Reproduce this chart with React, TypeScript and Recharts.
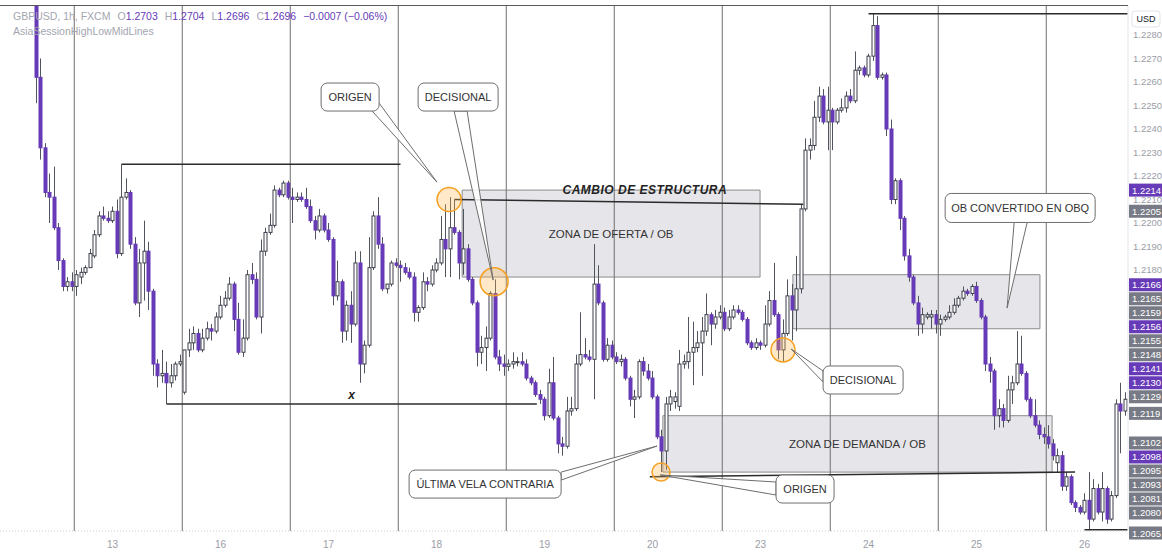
import React from "react";
import {
  ComposedChart,
  Bar,
  XAxis,
  YAxis,
  ReferenceLine,
  ReferenceArea,
  ReferenceDot,
} from "recharts";

// ----------------------------- Data (GBPUSD 1h, FXCM) -----------------------------
// one value per hourly candle, left to right
const OPEN = [
  1.2306, 1.2262, 1.2232, 1.2213, 1.2211, 1.2198, 1.2184, 1.2173, 1.2175, 1.2173,
  1.2177, 1.2179, 1.2181, 1.2186, 1.2195, 1.2203, 1.2202, 1.2201, 1.2205, 1.2187,
  1.2211, 1.2213, 1.2191, 1.2166, 1.2183, 1.2188, 1.2171, 1.214, 1.2135, 1.2136,
  1.2132, 1.2135, 1.214, 1.2128, 1.2146, 1.2149, 1.2153, 1.2146, 1.2151, 1.2155,
  1.2154, 1.216, 1.2165, 1.2168, 1.2174, 1.2159, 1.2145, 1.2151, 1.2178, 1.2176,
  1.216, 1.2188, 1.2196, 1.2199, 1.2214, 1.2212, 1.2217, 1.2211, 1.221, 1.2211,
  1.221, 1.2207, 1.2201, 1.2197, 1.2203, 1.2197, 1.2193, 1.2169, 1.2175, 1.2154,
  1.2165, 1.2157, 1.2183, 1.214, 1.2148, 1.2181, 1.2203, 1.2191, 1.2172, 1.2174,
  1.2183, 1.2182, 1.2181, 1.2179, 1.2177, 1.2162, 1.2164, 1.2175, 1.2174, 1.218,
  1.2183, 1.2193, 1.2189, 1.2198, 1.2196, 1.2183, 1.2189, 1.2176, 1.2166, 1.2145,
  1.2147, 1.2151, 1.217, 1.2143, 1.214, 1.2139, 1.214, 1.2141, 1.2141, 1.214,
  1.2134, 1.2132, 1.2127, 1.2125, 1.2118, 1.2132, 1.2117, 1.2106, 1.2105, 1.212,
  1.2121, 1.214, 1.2144, 1.2143, 1.2142, 1.2174, 1.2166, 1.2142, 1.2148, 1.2143,
  1.2141, 1.2142, 1.2134, 1.2125, 1.2126, 1.2141, 1.2137, 1.2134, 1.2126, 1.2109,
  1.2103, 1.2123, 1.2124, 1.2122, 1.214, 1.2141, 1.2145, 1.2147, 1.2149, 1.2154,
  1.2161, 1.2157, 1.216, 1.2162, 1.2155, 1.216, 1.2163, 1.2162, 1.2159, 1.2149,
  1.2147, 1.2149, 1.2148, 1.2157, 1.2167, 1.2161, 1.2146, 1.2153, 1.2169, 1.2163,
  1.2172, 1.2206, 1.2231, 1.2233, 1.2245, 1.2254, 1.2243, 1.2248, 1.2243, 1.2248,
  1.2249, 1.2254, 1.2252, 1.2265, 1.2266, 1.2263, 1.2271, 1.2284, 1.2262, 1.2263,
  1.224, 1.221, 1.2218, 1.2202, 1.2186, 1.2177, 1.2166, 1.2157, 1.216, 1.216,
  1.2161, 1.2157, 1.2159, 1.216, 1.2162, 1.2165, 1.2168, 1.2171, 1.217, 1.2173,
  1.2167, 1.216, 1.214, 1.2137, 1.2118, 1.2121, 1.2116, 1.2129, 1.2132, 1.214,
  1.2136, 1.2125, 1.2118, 1.2114, 1.211, 1.2109, 1.2106, 1.2098, 1.2101, 1.2088,
  1.2092, 1.2081, 1.2079, 1.2077, 1.2082, 1.2074, 1.2087, 1.2077, 1.2087, 1.2074,
  1.2084, 1.2123, 1.212,
];
const HIGH = [
  1.2308, 1.227, 1.2234, 1.2221, 1.2224, 1.22, 1.2185, 1.2177, 1.2179, 1.218,
  1.2181, 1.2182, 1.2189, 1.2197, 1.2205, 1.2207, 1.2205, 1.2207, 1.221, 1.2225,
  1.2219, 1.2214, 1.2194, 1.2189, 1.2201, 1.2192, 1.2172, 1.2142, 1.2146, 1.2141,
  1.214, 1.2141, 1.2144, 1.2146, 1.2155, 1.2156, 1.2155, 1.2155, 1.2158, 1.2157,
  1.2162, 1.2169, 1.2171, 1.2177, 1.2175, 1.2166, 1.2159, 1.218, 1.2183, 1.2179,
  1.2193, 1.2198, 1.2204, 1.2216, 1.2215, 1.2218, 1.2218, 1.2215, 1.2213, 1.2213,
  1.2215, 1.221, 1.2203, 1.2206, 1.2204, 1.22, 1.2194, 1.2184, 1.2176, 1.2167,
  1.2171, 1.2188, 1.2188, 1.215, 1.2194, 1.2205, 1.2211, 1.2194, 1.2174, 1.2184,
  1.2185, 1.2184, 1.2183, 1.2181, 1.2179, 1.2165, 1.2179, 1.2177, 1.2182, 1.2185,
  1.2203, 1.2208, 1.2211, 1.221, 1.2197, 1.2206, 1.2191, 1.2177, 1.2167, 1.2152,
  1.2156, 1.2171, 1.2176, 1.2146, 1.2144, 1.2142, 1.2145, 1.2143, 1.2145, 1.2142,
  1.2135, 1.2133, 1.2129, 1.2126, 1.2138, 1.2143, 1.2118, 1.2109, 1.2126, 1.2126,
  1.2144, 1.2162, 1.2151, 1.2146, 1.2191, 1.2182, 1.2167, 1.2151, 1.215, 1.2145,
  1.2144, 1.2143, 1.2135, 1.2129, 1.2142, 1.2143, 1.214, 1.2137, 1.2127, 1.2112,
  1.2126, 1.2129, 1.2128, 1.2146, 1.2144, 1.216, 1.2158, 1.2154, 1.216, 1.217,
  1.2162, 1.2163, 1.2165, 1.2164, 1.2163, 1.2165, 1.2165, 1.2163, 1.216, 1.215,
  1.2151, 1.215, 1.2165, 1.2171, 1.2183, 1.2162, 1.2159, 1.2176, 1.2174, 1.2186,
  1.2208, 1.2236, 1.2236, 1.2252, 1.2258, 1.2257, 1.2258, 1.2249, 1.2249, 1.2253,
  1.2256, 1.2257, 1.2273, 1.2267, 1.2267, 1.2272, 1.2289, 1.2288, 1.2264, 1.2264,
  1.2244, 1.2219, 1.2219, 1.2203, 1.2189, 1.2178, 1.2169, 1.2164, 1.2162, 1.2163,
  1.2163, 1.2161, 1.2161, 1.2165, 1.2168, 1.2169, 1.2173, 1.2172, 1.2174, 1.2175,
  1.2168, 1.2161, 1.2143, 1.2138, 1.2125, 1.2123, 1.2135, 1.2135, 1.2154, 1.2152,
  1.2137, 1.2126, 1.2125, 1.2116, 1.2113, 1.2114, 1.2108, 1.2104, 1.2103, 1.2094,
  1.2093, 1.2082, 1.208, 1.2085, 1.2094, 1.2091, 1.2089, 1.2094, 1.2088, 1.2086,
  1.2125, 1.2132, 1.2128,
];
const LOW = [
  1.2251, 1.2227, 1.2211, 1.22, 1.2197, 1.218, 1.2171, 1.2171, 1.2171, 1.2169,
  1.2174, 1.2178, 1.2181, 1.2185, 1.2194, 1.2201, 1.22, 1.22, 1.2185, 1.2186,
  1.221, 1.2189, 1.2165, 1.216, 1.2167, 1.2163, 1.2135, 1.213, 1.2132, 1.2123,
  1.213, 1.2133, 1.2139, 1.2127, 1.2143, 1.2146, 1.2145, 1.2145, 1.215, 1.215,
  1.2153, 1.2159, 1.2164, 1.2167, 1.2154, 1.2144, 1.2143, 1.215, 1.2174, 1.2159,
  1.2153, 1.2186, 1.2195, 1.2198, 1.2211, 1.2211, 1.221, 1.22, 1.2209, 1.2209,
  1.2206, 1.22, 1.2193, 1.2196, 1.2196, 1.2192, 1.2165, 1.2167, 1.2149, 1.215,
  1.2149, 1.2156, 1.2132, 1.2136, 1.2147, 1.218, 1.2189, 1.2171, 1.217, 1.2173,
  1.2181, 1.2175, 1.2178, 1.2176, 1.2158, 1.2158, 1.2163, 1.2171, 1.2173, 1.2179,
  1.2182, 1.2177, 1.2177, 1.2195, 1.2176, 1.2178, 1.2175, 1.2165, 1.2139, 1.214,
  1.2137, 1.215, 1.2142, 1.2137, 1.2135, 1.2137, 1.2138, 1.2139, 1.2139, 1.2133,
  1.2131, 1.2126, 1.2123, 1.2116, 1.2117, 1.2116, 1.2102, 1.2101, 1.2104, 1.2118,
  1.212, 1.2139, 1.2142, 1.2141, 1.2125, 1.2165, 1.2141, 1.2141, 1.2142, 1.214,
  1.2139, 1.2133, 1.2122, 1.2117, 1.2125, 1.2135, 1.2133, 1.2125, 1.2108, 1.2094,
  1.2095, 1.212, 1.2121, 1.212, 1.2138, 1.2138, 1.2131, 1.2145, 1.2135, 1.2152,
  1.2148, 1.2155, 1.2159, 1.2154, 1.2154, 1.2159, 1.2161, 1.2158, 1.2148, 1.2146,
  1.2146, 1.2146, 1.2147, 1.2156, 1.216, 1.2142, 1.2141, 1.2152, 1.215, 1.2154,
  1.217, 1.2205, 1.2227, 1.2231, 1.2243, 1.2242, 1.2231, 1.2231, 1.2242, 1.2247,
  1.2247, 1.2251, 1.2251, 1.2263, 1.2262, 1.2262, 1.2269, 1.2261, 1.2261, 1.2237,
  1.2208, 1.2208, 1.2197, 1.2184, 1.2175, 1.2165, 1.2152, 1.2153, 1.2159, 1.2155,
  1.2153, 1.2152, 1.2158, 1.2159, 1.2161, 1.2164, 1.2167, 1.2169, 1.2169, 1.2166,
  1.2159, 1.2137, 1.2132, 1.2112, 1.2113, 1.2113, 1.2115, 1.2123, 1.2131, 1.2135,
  1.2124, 1.2117, 1.2113, 1.2108, 1.2106, 1.2104, 1.2099, 1.2094, 1.2086, 1.2086,
  1.208, 1.2077, 1.2076, 1.2076, 1.2069, 1.2073, 1.2076, 1.2073, 1.2072, 1.2073,
  1.2083, 1.2102, 1.2118,
];
const CLOSE = [
  1.2262, 1.2232, 1.2213, 1.2211, 1.2198, 1.2184, 1.2173, 1.2175, 1.2173, 1.2178,
  1.2179, 1.2181, 1.2187, 1.2195, 1.2203, 1.2202, 1.2201, 1.2205, 1.2187, 1.2211,
  1.2213, 1.2191, 1.2166, 1.2183, 1.2188, 1.2171, 1.214, 1.2135, 1.2136, 1.2132,
  1.2135, 1.214, 1.2141, 1.2146, 1.2149, 1.2153, 1.2146, 1.2151, 1.2155, 1.2154,
  1.216, 1.2165, 1.2168, 1.2174, 1.2159, 1.2145, 1.2151, 1.2178, 1.2176, 1.216,
  1.2188, 1.2196, 1.2199, 1.2214, 1.2212, 1.2217, 1.2211, 1.221, 1.2211, 1.221,
  1.2207, 1.2201, 1.2197, 1.2203, 1.2197, 1.2193, 1.2169, 1.2175, 1.2154, 1.2165,
  1.2157, 1.2183, 1.214, 1.2148, 1.2181, 1.2203, 1.2191, 1.2172, 1.2174, 1.2183,
  1.2182, 1.2181, 1.2179, 1.2177, 1.2162, 1.2164, 1.2175, 1.2174, 1.218, 1.2183,
  1.2193, 1.2189, 1.2198, 1.2196, 1.2183, 1.2189, 1.2176, 1.2166, 1.2145, 1.2147,
  1.2151, 1.217, 1.2143, 1.214, 1.2139, 1.214, 1.2141, 1.2141, 1.214, 1.2134,
  1.2132, 1.2127, 1.2125, 1.2118, 1.2132, 1.2117, 1.2106, 1.2105, 1.212, 1.2121,
  1.214, 1.2144, 1.2143, 1.2142, 1.2174, 1.2166, 1.2142, 1.2148, 1.2143, 1.2141,
  1.2142, 1.2134, 1.2125, 1.2126, 1.2141, 1.2137, 1.2134, 1.2126, 1.2109, 1.2103,
  1.2123, 1.2126, 1.2126, 1.214, 1.2141, 1.2145, 1.2147, 1.2149, 1.2154, 1.2161,
  1.2157, 1.216, 1.2162, 1.2155, 1.216, 1.2163, 1.2162, 1.2159, 1.2149, 1.2147,
  1.2149, 1.2148, 1.2157, 1.2167, 1.2161, 1.2146, 1.2153, 1.2169, 1.2163, 1.2172,
  1.2206, 1.2231, 1.2233, 1.2245, 1.2254, 1.2243, 1.2248, 1.2243, 1.2248, 1.2249,
  1.2254, 1.2252, 1.2265, 1.2266, 1.2263, 1.2271, 1.2284, 1.2262, 1.2263, 1.224,
  1.221, 1.2218, 1.2202, 1.2186, 1.2177, 1.2166, 1.2157, 1.2161, 1.2161, 1.2161,
  1.2157, 1.2159, 1.216, 1.2162, 1.2165, 1.2168, 1.2171, 1.217, 1.2173, 1.2167,
  1.216, 1.214, 1.2137, 1.2118, 1.2121, 1.2116, 1.2129, 1.2132, 1.214, 1.2136,
  1.2125, 1.2118, 1.2114, 1.211, 1.2109, 1.2106, 1.2101, 1.2101, 1.2088, 1.2092,
  1.2081, 1.2079, 1.2077, 1.2082, 1.2074, 1.2087, 1.2077, 1.2087, 1.2074, 1.2084,
  1.2123, 1.212, 1.2125,
];

const DAY_LABELS = ["13", "16", "17", "18", "19", "20", "23", "24", "25", "26"];
const DAY_TICKS = [17, 41, 65, 89, 113, 137, 161, 185, 209, 233];
const SESSION_BREAKS = [8.5, 32.5, 56.5, 80.5, 104.5, 128.5, 152.5, 176.5, 200.5, 224.5];
const PRICE_TICKS = [1.218, 1.219, 1.22, 1.221, 1.222, 1.223, 1.224, 1.225, 1.226, 1.227, 1.228];

// price labels on the right scale (drawing levels / last values)
const AXIS_MARKS: { price: number; purple: boolean }[] = [
  { price: 1.2214, purple: true },
  { price: 1.2205, purple: false },
  { price: 1.2166, purple: true },
  { price: 1.2165, purple: false },
  { price: 1.2159, purple: false },
  { price: 1.2156, purple: true },
  { price: 1.2155, purple: false },
  { price: 1.2148, purple: false },
  { price: 1.2141, purple: true },
  { price: 1.213, purple: true },
  { price: 1.2129, purple: false },
  { price: 1.2119, purple: false },
  { price: 1.2102, purple: false },
  { price: 1.2098, purple: true },
  { price: 1.2095, purple: false },
  { price: 1.2093, purple: false },
  { price: 1.2081, purple: false },
  { price: 1.208, purple: false },
  { price: 1.2065, purple: false },
];

const LEGEND_OHLC = [
  ["O", "1.2703"],
  ["H", "1.2704"],
  ["L", "1.2696"],
  ["C", "1.2696"],
];

// zones: bar index span and price span
const ZONES = [
  { x1: 94.7, x2: 160.9, y1: 1.2177, y2: 1.2214, text: "ZONA DE OFERTA / OB" },
  { x1: 168.2, x2: 223.1, y1: 1.2155, y2: 1.2178, text: "" },
  { x1: 139.3, x2: 225.8, y1: 1.2094, y2: 1.2118, text: "ZONA DE DEMANDA / OB" },
];

// horizontal drawings
const LEVELS = [
  { from: 19, to: 81, a: 1.2225, b: 1.2225 },
  { from: 29, to: 111.3, a: 1.2123, b: 1.2123 },
  { from: 93, to: 170.5, a: 1.221, b: 1.2208 },
  { from: 185, to: 242.6, a: 1.2289, b: 1.2289 },
  { from: 136.4, to: 230.9, a: 1.2092, b: 1.2094 },
  { from: 233, to: 242.6, a: 1.20695, b: 1.20695 },
];

const CIRCLES = [
  { x: 91.8, y: 1.221, r: 12 },
  { x: 101.8, y: 1.2175, r: 14 },
  { x: 166, y: 1.2146, r: 12 },
  { x: 138.9, y: 1.2094, r: 9 },
];

const CALLOUTS = [
  { text: "ORIGEN", at: [69.8, 1.22536], tip: [89.1, 1.22174], w: 58, h: 28, base: [[22, 14], [29, 6]] },
  { text: "DECISIONAL", at: [93.8, 1.22536], tip: [101.6, 1.21757], w: 80, h: 28, base: [[-4, 14], [9, 14]] },
  { text: "OB CONVERTIDO EN OBQ", at: [218.7, 1.22064], tip: [215.8, 1.21638], w: 150, h: 29, base: [[-6, 14.5], [7, 14.5]] },
  { text: "DECISIONAL", at: [183.8, 1.21332], tip: [167.8, 1.21464], w: 80, h: 28, base: [[-40, -9], [-40, 2]] },
  { text: "ÚLTIMA VELA CONTRARIA", at: [99.8, 1.20889], tip: [138.0, 1.21051], w: 152, h: 28, base: [[76, -12], [76, -4]] },
  { text: "ORIGEN", at: [170.9, 1.20868], tip: [138.7, 1.20928], w: 58, h: 28, base: [[-29, -7], [-29, 6]] },
];

// ----------------------------- Layout -----------------------------
const W = 1162;
const H = 554;
const PLOT_TOP = 6;
const AXIS_W = 34;
const AXIS_H = 23;
const PLOT_W = W - AXIS_W;
const PLOT_H = H - PLOT_TOP - AXIS_H;
const X_MIN = -8;
const X_MAX = X_MIN + PLOT_W / 4.5;
const Y_MIN = 1.206894;
const Y_MAX = 1.229234;
const PX_PER_IDX = PLOT_W / (X_MAX - X_MIN);
const PX_PER_PRICE = PLOT_H / (Y_MAX - Y_MIN);
const priceToY = (p: number) => PLOT_TOP + (Y_MAX - p) * PX_PER_PRICE;

const PURPLE = "#673ab7";
const OUTLINE = "#3b3f4a";
const WICK = "#50545f";
const INK = "#2b2b2b";
const FONT = '"Liberation Sans", Arial, sans-serif';

const data = OPEN.map((o, i) => {
  const c = CLOSE[i];
  const hi = Math.max(HIGH[i], o, c);
  const lo = Math.min(LOW[i], o, c);
  return { i, open: o, close: c, high: hi, low: lo, range: [lo, hi] };
});

// ----------------------------- Shapes -----------------------------
function Candle(props: any) {
  const { x, y, width, height, payload } = props;
  if (!payload || x == null || y == null) return null;
  const top = Math.min(y, y + height);
  const h = Math.abs(height);
  const { open, close, high, low } = payload;
  const k = high > low ? h / (high - low) : 0;
  const toY = (v: number) => top + (high - v) * k;
  const cx = Math.round(x + width / 2) + 0.5;
  const up = close >= open;
  const bTop = toY(Math.max(open, close));
  const bBot = toY(Math.min(open, close));
  return (
    <g>
      <line x1={cx} x2={cx} y1={top} y2={top + h} stroke={WICK} strokeWidth={1} />
      <rect
        x={cx - 1.5}
        y={bTop}
        width={3}
        height={Math.max(1, bBot - bTop)}
        fill={up ? "#ffffff" : PURPLE}
        stroke={up ? OUTLINE : PURPLE}
        strokeWidth={1}
      />
    </g>
  );
}

const calloutShape = (c: (typeof CALLOUTS)[number]) => (p: any) => {
  const { cx, cy } = p;
  const tx = cx + (c.tip[0] - c.at[0]) * PX_PER_IDX;
  const ty = cy - (c.tip[1] - c.at[1]) * PX_PER_PRICE;
  const [b1, b2] = c.base;
  const pts = `${cx + b1[0]},${cy + b1[1]} ${tx},${ty} ${cx + b2[0]},${cy + b2[1]}`;
  return (
    <g>
      <polygon points={pts} fill="#ffffff" fillOpacity={0.85} stroke="#6e6e6e" strokeWidth={1} />
      <rect x={cx - c.w / 2} y={cy - c.h / 2} width={c.w} height={c.h} rx={6} fill="#ffffff" stroke="#6e6e6e" strokeWidth={1} />
      <text x={cx} y={cy} textAnchor="middle" dominantBaseline="central" fontSize={11} fill="#333" fontFamily={FONT}>
        {c.text}
      </text>
    </g>
  );
};

const textShape = (label: string, size: number) => (p: any) => (
  <text
    x={p.cx}
    y={p.cy}
    textAnchor="middle"
    dominantBaseline="central"
    fontSize={size}
    fontWeight="bold"
    fontStyle="italic"
    fill="#222"
    fontFamily={FONT}
    letterSpacing={0.5}
  >
    {label}
  </text>
);

// spread overlapping price labels like the trading terminal does
function layoutMarks(marks: typeof AXIS_MARKS, step: number, maxY: number) {
  const items = marks.map((m) => ({ ...m, y: priceToY(m.price) })).sort((a, b) => a.y - b.y);
  let groups = items.map((it) => ({ items: [it], center: it.y }));
  const clamp = (g: { items: unknown[]; center: number }) => {
    const bottom = g.center + ((g.items.length - 1) * step) / 2;
    if (bottom > maxY) g.center -= bottom - maxY;
  };
  groups.forEach(clamp);
  let changed = true;
  while (changed) {
    changed = false;
    for (let g = 0; g < groups.length - 1; g++) {
      const a = groups[g];
      const b = groups[g + 1];
      if (a.center + (a.items.length * step) / 2 > b.center - (b.items.length * step) / 2) {
        const merged = [...a.items, ...b.items];
        const next = { items: merged, center: merged.reduce((s, it) => s + it.y, 0) / merged.length };
        clamp(next);
        groups.splice(g, 2, next);
        changed = true;
        break;
      }
    }
  }
  return groups.flatMap((g) =>
    g.items.map((it, k) => ({ ...it, pos: g.center + (k - (g.items.length - 1) / 2) * step }))
  );
}

// ----------------------------- Chart -----------------------------
export default function App() {
  const marks = layoutMarks(AXIS_MARKS, 14, PLOT_TOP + PLOT_H + 2);
  return (
    <div style={{ position: "fixed", left: 0, top: 0, width: W, height: H, background: "#fff", fontFamily: FONT }}>
      <ComposedChart width={W} height={H} data={data} margin={{ top: PLOT_TOP, right: 0, bottom: 0, left: 0 }}>
        <XAxis
          dataKey="i"
          type="number"
          domain={[X_MIN, X_MAX]}
          allowDataOverflow
          ticks={DAY_TICKS}
          interval={0}
          tickFormatter={(v: number) => DAY_LABELS[DAY_TICKS.indexOf(v)] ?? ""}
          height={AXIS_H}
          tickLine={false}
          tickSize={0}
          tickMargin={10}
          axisLine={{ stroke: "#c9ccd3", strokeDasharray: "1 2" }}
          tick={{ fontSize: 10, fill: "#9a9da6" }}
        />
        <YAxis
          orientation="right"
          type="number"
          domain={[Y_MIN, Y_MAX]}
          allowDataOverflow
          ticks={PRICE_TICKS}
          interval={0}
          width={AXIS_W}
          tickFormatter={(v: number) => v.toFixed(4)}
          tickLine={false}
          tickSize={0}
          tickMargin={5}
          axisLine={{ stroke: "#e3e5ea" }}
          tick={{ fontSize: 9.5, fill: "#9a9da6", textAnchor: "start" }}
        />

        {SESSION_BREAKS.map((x) => (
          <ReferenceLine key={`s${x}`} x={x} stroke="#6f6f6f" strokeWidth={1} ifOverflow="hidden" />
        ))}

        <Bar dataKey="range" barSize={4} isAnimationActive={false} shape={<Candle />} />

        {ZONES.map((z, k) => (
          <ReferenceArea
            key={`z${k}`}
            x1={z.x1}
            x2={z.x2}
            y1={z.y1}
            y2={z.y2}
            fill="#c4c4cc"
            fillOpacity={0.42}
            stroke="#8c8c8c"
            strokeWidth={1}
            ifOverflow="hidden"
            label={z.text ? { value: z.text, position: "center", fill: "#333", fontSize: 11.5 } : undefined}
          />
        ))}

        {LEVELS.map((l, k) => (
          <ReferenceLine
            key={`l${k}`}
            segment={[
              { x: l.from, y: l.a },
              { x: l.to, y: l.b },
            ]}
            stroke={INK}
            strokeWidth={1.5}
            ifOverflow="hidden"
          />
        ))}

        <ReferenceDot x={135.3} y={1.2214} r={1} ifOverflow="hidden" shape={textShape("CAMBIO DE ESTRUCTURA", 12)} />
        <ReferenceDot x={70.2} y={1.2127} r={1} ifOverflow="hidden" shape={textShape("x", 12)} />

        {CIRCLES.map((c, k) => (
          <ReferenceDot
            key={`c${k}`}
            x={c.x}
            y={c.y}
            r={c.r}
            fill="#ffb74d"
            fillOpacity={0.3}
            stroke="#f5a021"
            strokeWidth={1.5}
            ifOverflow="hidden"
          />
        ))}

        {CALLOUTS.map((c, k) => (
          <ReferenceDot key={`o${k}`} x={c.at[0]} y={c.at[1]} r={1} ifOverflow="hidden" shape={calloutShape(c)} />
        ))}
      </ComposedChart>

      {/* price scale badges, top frame, currency tag */}
      <svg width={W} height={H} style={{ position: "absolute", left: 0, top: 0, pointerEvents: "none" }}>
        <line x1={0} x2={PLOT_W} y1={PLOT_TOP - 0.5} y2={PLOT_TOP - 0.5} stroke="#5a5a5a" strokeWidth={1} />
        <rect x={PLOT_W + 4} y={11} width={28} height={16} rx={3} fill="#fff" stroke="#e0e3eb" />
        <text x={PLOT_W + 18} y={19} textAnchor="middle" dominantBaseline="central" fontSize={9} fill="#131722">
          USD
        </text>
        {marks.map((m) => (
          <g key={m.price}>
            <rect x={PLOT_W + 1} y={m.pos - 6.5} width={AXIS_W - 1} height={13} fill={m.purple ? PURPLE : "#787b86"} />
            <text x={PLOT_W + 4} y={m.pos} dominantBaseline="central" fontSize={9.5} fill="#fff">
              {m.price.toFixed(4)}
            </text>
          </g>
        ))}
      </svg>

      <div style={{ position: "absolute", left: 13, top: 9, fontSize: 10.5, lineHeight: "15px", color: "#a3a6af" }}>
        <div>
          GBPUSD, 1h, FXCM
          {LEGEND_OHLC.map(([k, v]) => (
            <span key={k} style={{ marginLeft: 7 }}>
              {k}
              <span style={{ color: PURPLE }}>{v}</span>
            </span>
          ))}
          <span style={{ marginLeft: 7, color: PURPLE }}>−0.0007 (−0.06%)</span>
        </div>
        <div>AsiaSessionHighLowMidLines</div>
      </div>
    </div>
  );
}
